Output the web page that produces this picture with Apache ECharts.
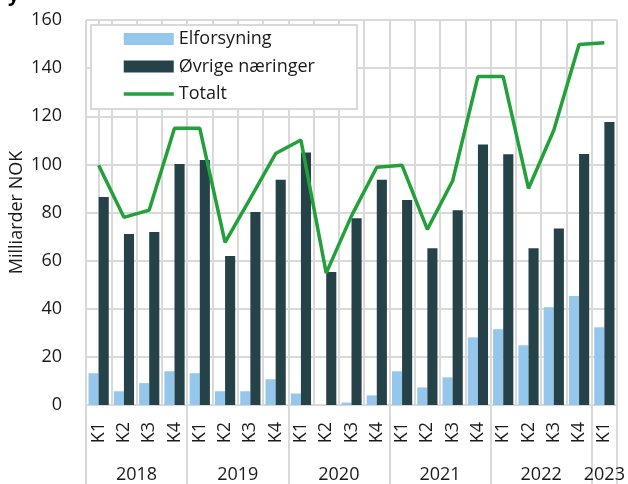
<!DOCTYPE html>
<html>
<head>
<meta charset="utf-8">
<script src="https://cdn.jsdelivr.net/npm/echarts@6/dist/echarts.min.js"></script>
<style>
  html, body { margin: 0; padding: 0; background: #fff; }
  #chart { width: 628px; height: 484px; }
</style>
</head>
<body>
<div id="chart"></div>
<script>
// Quarterly investments, billions NOK
const quarters = ['K1','K2','K3','K4','K1','K2','K3','K4','K1','K2','K3','K4',
                  'K1','K2','K3','K4','K1','K2','K3','K4','K1'];
const years = ['2018', '2019', '2020', '2021', '2022', '2023'];
const yearCenters = [1.5, 5.5, 9.5, 13.5, 17.5, 20];
const yearBounds = [-0.5, 3.5, 7.5, 11.5, 15.5, 19.5, 20.5];

const elforsyning = [13.2, 5.7, 9.1, 14.0, 13.2, 5.7, 5.7, 10.7, 4.8, -0.5, 1.0, 4.0,
                     14.0, 7.3, 11.5, 28.1, 31.5, 24.8, 40.6, 45.3, 32.3];
const ovrige = [86.4, 71.1, 71.9, 100.2, 101.8, 61.9, 80.2, 93.6, 104.9, 55.3, 77.6, 93.6,
                85.2, 65.1, 80.9, 108.3, 104.2, 65.1, 73.4, 104.3, 117.6];
const totalt = [99.6, 78.0, 81.0, 115.0, 115.0, 67.6, 85.9, 104.5, 110.1, 54.8, 78.6, 98.8,
                99.6, 73.0, 93.2, 136.5, 136.5, 90.0, 114.2, 149.8, 150.5];

const FONT = '"Open Sans", "Noto Sans", sans-serif';
const TXT = '#1a1a1a';
const GRID = '#d9d9d9';
const GREEN = '#22A03A';

const chart = echarts.init(document.getElementById('chart'), null, { renderer: 'canvas' });

chart.setOption({
  animation: false,
  backgroundColor: '#ffffff',
  textStyle: { fontFamily: FONT, color: TXT },
  graphic: [{
    type: 'text', left: 8, top: -15,
    style: { text: 'y', font: 'bold 20px ' + FONT, fill: '#000' }
  }],
  grid: {
    left: 86, right: 11, top: 20, bottom: 79,
    containLabel: false,
    outerBoundsMode: 'none'
  },
  legend: {
    orient: 'vertical',
    left: 91, top: 25,
    padding: [5, 42, 6, 31],
    itemGap: 9.5,
    itemWidth: 50, itemHeight: 12,
    backgroundColor: '#ffffff',
    borderColor: GRID, borderWidth: 2,
    textStyle: { fontSize: 18, lineHeight: 18, color: TXT, fontFamily: FONT },
    data: [
      { name: 'Elforsyning', icon: 'rect' },
      { name: 'Øvrige næringer', icon: 'rect' },
      { name: 'Totalt', itemStyle: { opacity: 0 }, lineStyle: { color: GREEN, width: 3.5 } }
    ]
  },
  xAxis: [{
    type: 'category',
    data: quarters,
    boundaryGap: true,
    axisLine: { show: true, lineStyle: { color: GRID, width: 2 } },
    axisTick: { show: false },
    splitLine: { show: true, interval: 0, lineStyle: { color: GRID, width: 2 } },
    axisLabel: { interval: 0, rotate: 90, margin: 17, fontSize: 18, color: TXT, fontFamily: FONT }
  }, {
    type: 'value',
    position: 'bottom',
    min: -0.5, max: 20.5,
    axisLine: { show: false },
    splitLine: { show: false },
    axisTick: {
      show: true, length: 79, customValues: yearBounds,
      lineStyle: { color: GRID, width: 2 }
    },
    axisLabel: {
      customValues: yearCenters,
      margin: 61, fontSize: 18, color: TXT, fontFamily: FONT,
      formatter: function (v) {
        const i = yearCenters.indexOf(v);
        return i >= 0 ? years[i] : '';
      }
    }
  }],
  yAxis: {
    type: 'value',
    min: 0, max: 160, interval: 20,
    name: 'Milliarder NOK',
    nameLocation: 'middle',
    nameGap: 60,
    nameMoveOverlap: false,
    nameTextStyle: { fontSize: 18, color: TXT, fontFamily: FONT },
    axisLine: { show: true, lineStyle: { color: GRID, width: 2 } },
    axisTick: { show: false },
    splitLine: { show: true, lineStyle: { color: GRID, width: 2 } },
    axisLabel: { margin: 24, fontSize: 18, color: TXT, fontFamily: FONT }
  },
  series: [{
    name: 'Elforsyning',
    type: 'bar',
    data: elforsyning,
    barGap: '0%',
    barCategoryGap: '20%',
    itemStyle: { color: '#95C6EB' }
  }, {
    name: 'Øvrige næringer',
    type: 'bar',
    data: ovrige,
    barGap: '0%',
    barCategoryGap: '20%',
    itemStyle: { color: '#264249' }
  }, {
    name: 'Totalt',
    type: 'line',
    data: totalt,
    symbol: 'none',
    z: 5,
    lineStyle: { color: GREEN, width: 3.5 },
    itemStyle: { color: GREEN }
  }]
});
</script>
</body>
</html>
